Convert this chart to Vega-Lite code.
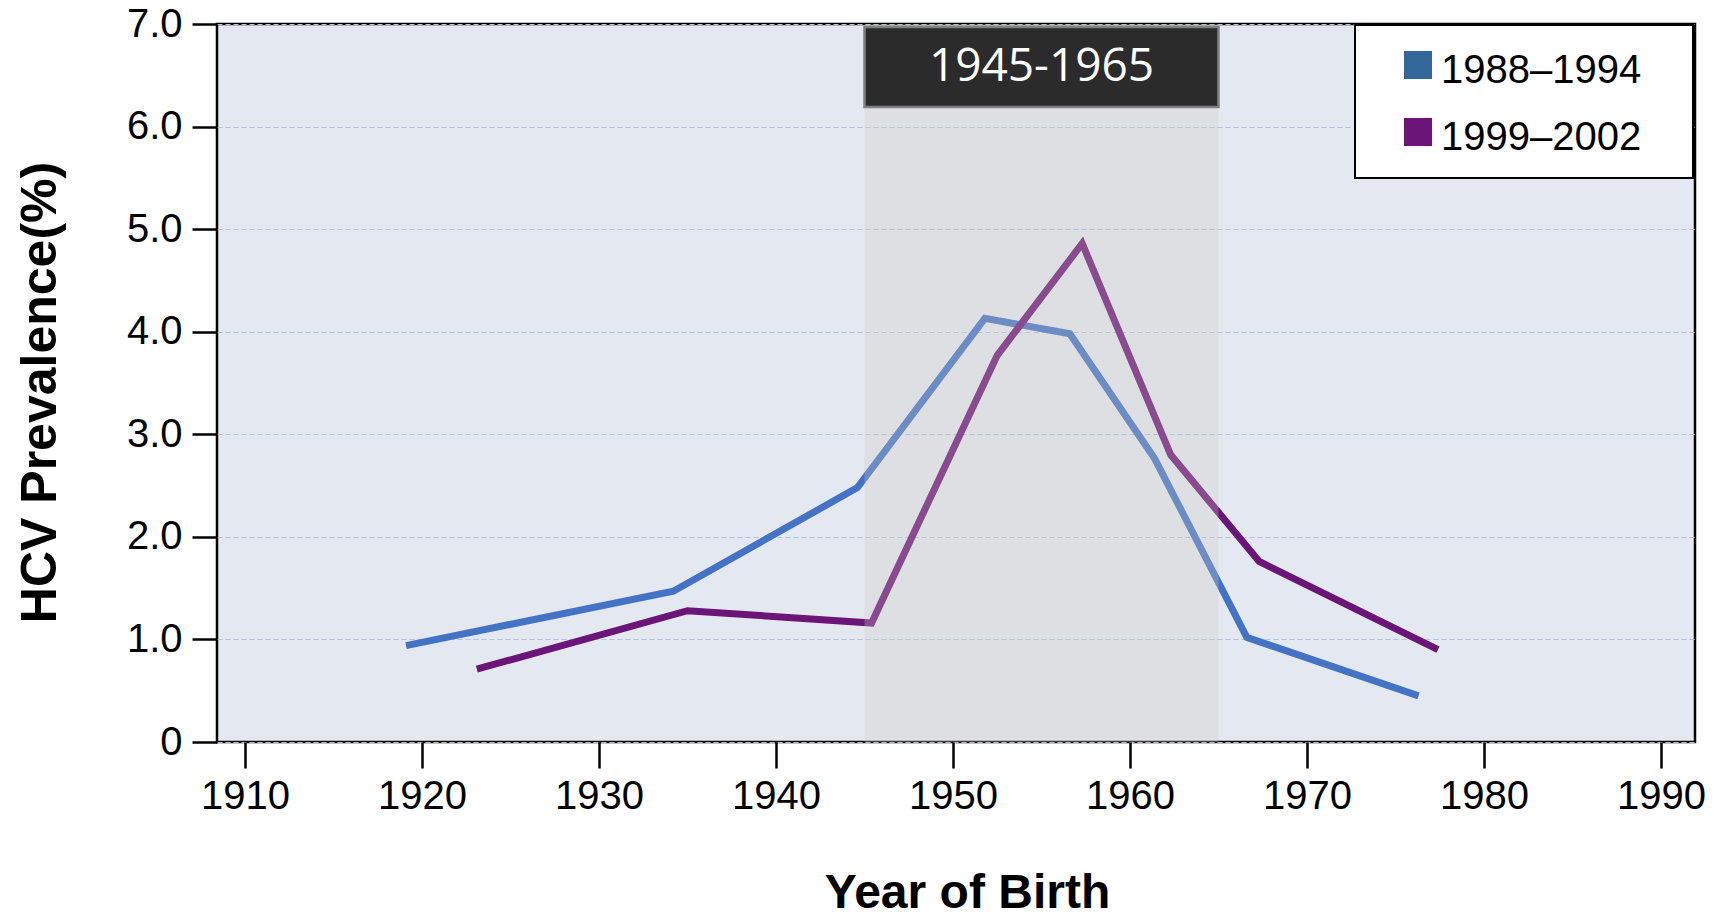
{
  "$schema": "https://vega.github.io/schema/vega-lite/v6.json",
  "width": 1478,
  "height": 718,
  "autosize": {"type": "none"},
  "padding": {"left": 217, "top": 24, "right": 19, "bottom": 181},
  "background": "white",
  "config": {
    "font": "Liberation Sans",
    "view": {"fill": "#e4e9f1", "stroke": "black", "strokeWidth": 2.5},
    "axis": {
      "labelFont": "Liberation Sans",
      "labelFontSize": 40,
      "labelColor": "black",
      "tickColor": "black",
      "tickWidth": 2.5,
      "domain": false,
      "titleFont": "Liberation Sans",
      "titleFontWeight": "bold",
      "titleColor": "black"
    }
  },
  "datasets": {
    "series": [
      {"survey": "1988–1994", "year": 1919.1, "prevalence": 0.94},
      {"survey": "1988–1994", "year": 1934.2, "prevalence": 1.47},
      {"survey": "1988–1994", "year": 1944.6, "prevalence": 2.48},
      {"survey": "1988–1994", "year": 1951.8, "prevalence": 4.13},
      {"survey": "1988–1994", "year": 1956.6, "prevalence": 3.98},
      {"survey": "1988–1994", "year": 1961.4, "prevalence": 2.76},
      {"survey": "1988–1994", "year": 1966.6, "prevalence": 1.02},
      {"survey": "1988–1994", "year": 1976.3, "prevalence": 0.45},
      {"survey": "1999–2002", "year": 1923.1, "prevalence": 0.71},
      {"survey": "1999–2002", "year": 1935.0, "prevalence": 1.28},
      {"survey": "1999–2002", "year": 1945.4, "prevalence": 1.16},
      {"survey": "1999–2002", "year": 1952.5, "prevalence": 3.77},
      {"survey": "1999–2002", "year": 1957.3, "prevalence": 4.86},
      {"survey": "1999–2002", "year": 1962.3, "prevalence": 2.8},
      {"survey": "1999–2002", "year": 1967.3, "prevalence": 1.76},
      {"survey": "1999–2002", "year": 1977.4, "prevalence": 0.9}
    ],
    "period": [
      {"start": 1945, "end": 1965, "mid": 1955, "label": "1945-1965"}
    ]
  },
  "layer": [
    {
      "data": {"name": "series"},
      "mark": {"type": "line", "strokeWidth": 7, "strokeCap": "butt", "strokeJoin": "miter"},
      "encoding": {
        "x": {
          "field": "year",
          "type": "quantitative",
          "title": "Year of Birth",
          "scale": {"domain": [1908.42, 1991.92], "nice": false, "zero": false},
          "axis": {
            "values": [1910, 1920, 1930, 1940, 1950, 1960, 1970, 1980, 1990],
            "format": "d",
            "tickSize": 26,
            "labelPadding": 8,
            "grid": false,
            "titleFontSize": 48,
            "titleX": 750,
            "titleY": 165,
            "titleBaseline": "alphabetic",
            "titleAlign": "center"
          }
        },
        "y": {
          "field": "prevalence",
          "type": "quantitative",
          "title": "HCV Prevalence(%)",
          "scale": {"domain": [0, 7], "nice": false},
          "axis": {
            "values": [0, 1, 2, 3, 4, 5, 6, 7],
            "labelExpr": "datum.value == 0 ? '0' : format(datum.value, '.1f')",
            "tickSize": 25,
            "labelPadding": 10,
            "grid": true,
            "gridColor": "#aec3e6",
            "gridDash": [5, 3],
            "gridWidth": 1,
            "titleFontSize": 50,
            "titleX": -162,
            "titleY": 368,
            "titleBaseline": "alphabetic",
            "titleAlign": "center",
            "titleAngle": -90
          }
        },
        "color": {
          "field": "survey",
          "type": "nominal",
          "scale": {"domain": ["1988–1994", "1999–2002"], "range": ["#4472c4", "#6a1577"]},
          "legend": {
            "orient": "none",
            "legendX": 1138,
            "legendY": 1,
            "title": "\u00a0",
            "titleOrient": "right",
            "titleFontSize": 40,
            "titlePadding": 32,
            "symbolType": "square",
            "symbolSize": 784,
            "symbolStrokeWidth": 0,
            "labelFont": "Liberation Sans",
            "labelFontSize": 40,
            "labelColor": "black",
            "labelOffset": 3,
            "labelLimit": 600,
            "padding": 20,
            "rowPadding": 21,
            "symbolOffset": 23,
            "fillColor": "white",
            "strokeColor": "black",
            "encode": {
              "legend": {"update": {"strokeWidth": {"value": 2}}},
              "symbols": {
                "update": {
                  "fill": {"signal": "datum.value === '1988–1994' ? '#336699' : '#6a1577'"},
                  "stroke": {"value": "transparent"},
                  "opacity": {"value": 1}
                }
              },
              "labels": {
                "update": {
                  "dy": {"value": 6}
                }
              }
            }
          }
        }
      }
    },
    {
      "data": {"name": "period"},
      "mark": {"type": "rect", "fill": "#cdcbc2", "opacity": 0.3},
      "encoding": {
        "x": {"field": "start", "type": "quantitative", "title": "Year of Birth"},
        "x2": {"field": "end"},
        "y": {"datum": 0},
        "y2": {"datum": 7}
      }
    },
    {
      "data": {"name": "period"},
      "mark": {"type": "rect", "fill": "#2b2b2b", "stroke": "#7f7f7f", "strokeWidth": 2.5},
      "encoding": {
        "x": {"field": "start", "type": "quantitative", "title": "Year of Birth"},
        "x2": {"field": "end"},
        "y": {"datum": 6.97},
        "y2": {"datum": 6.19}
      }
    },
    {
      "data": {"name": "period"},
      "mark": {"type": "text", "font": "Open Sans", "fontSize": 46, "color": "white", "baseline": "middle", "align": "center"},
      "encoding": {
        "x": {"field": "mid", "type": "quantitative", "title": "Year of Birth"},
        "y": {"datum": 6.58},
        "text": {"field": "label"}
      }
    }
  ]
}
